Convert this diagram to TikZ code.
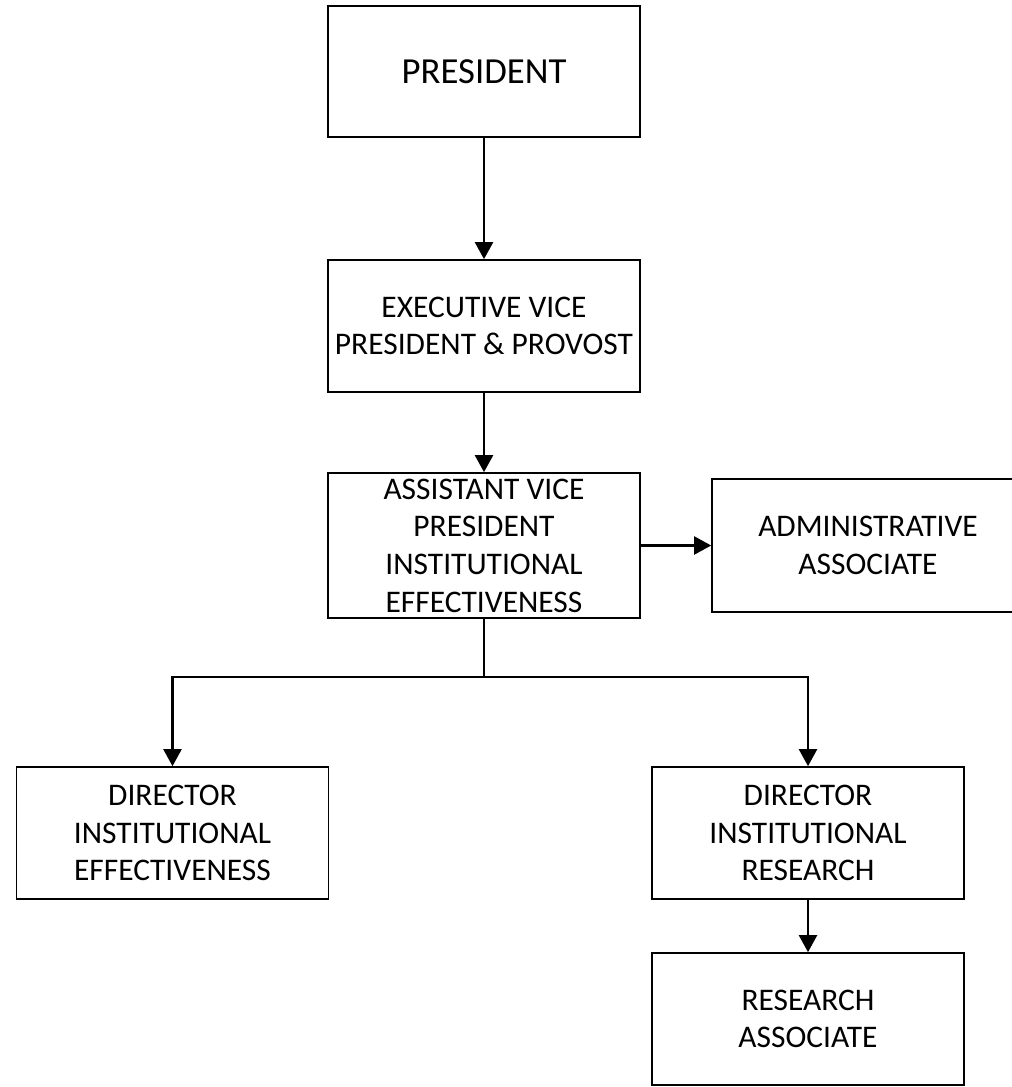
\documentclass[tikz,border=0pt]{standalone}
\usepackage{fontspec}
\setmainfont{Carlito}
\usetikzlibrary{arrows.meta}
\tikzset{
    box/.style={draw, line width=0.95pt, minimum width=6.24cm, minimum height=2.64cm,
        align=center, inner sep=0pt, font=\fontsize{17.9}{21.4}\selectfont},
    link/.style={line width=1.3pt, -{Triangle[length=0.34cm,width=0.36cm]}}
}
\begin{document}
\begin{tikzpicture}
        \useasboundingbox (0,0) rectangle (20.22,-21.74);
        % chain down the middle
        \node[box, minimum height=2.62cm, font=\fontsize{20.9}{24}\selectfont] (pres) at (9.68,-1.43) {PRESIDENT};
        \node[box] (evp) at (9.68,-6.52) {EXECUTIVE VICE\\PRESIDENT \& PROVOST};
        \node[box, minimum height=2.9cm] (avp) at (9.68,-10.91) {ASSISTANT VICE\\PRESIDENT\\INSTITUTIONAL\\EFFECTIVENESS};
        \node[box, minimum height=2.66cm] (admin) at (17.36,-10.91) {ADMINISTRATIVE\\ASSOCIATE};
        % directors
        \node[box] (dirie) at (3.45,-16.66) {DIRECTOR\\INSTITUTIONAL\\EFFECTIVENESS};
        \node[box] (dirir) at (16.16,-16.66) {DIRECTOR\\INSTITUTIONAL\\RESEARCH};
        \node[box] (ra) at (16.16,-20.38) {RESEARCH\\ASSOCIATE};
        \coordinate (split) at (9.68,-13.54);
        \draw[link] (pres) -- (evp);
        \draw[link] (evp) -- (avp);
        \draw[link] (avp) -- (admin);
        \draw[line width=1.3pt] (avp.south) -- (split);
        \draw[link] (split) -| (dirie.north);
        \draw[link] (split) -| (dirir.north);
        \draw[link] (dirir) -- (ra);
    \end{tikzpicture}
\end{document}
